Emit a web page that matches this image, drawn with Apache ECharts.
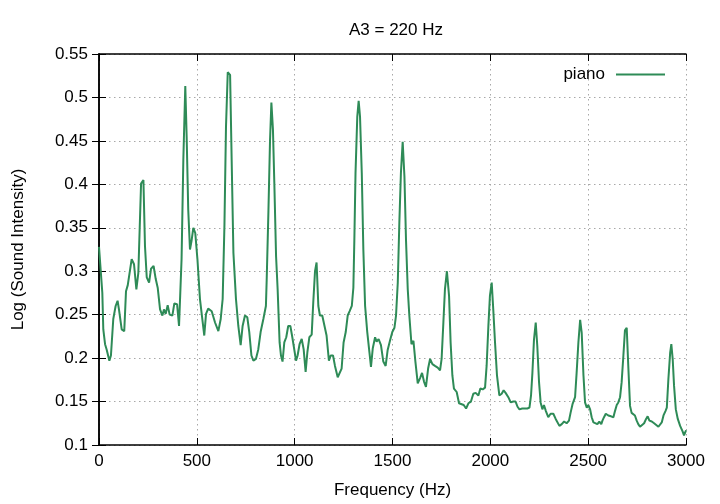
<!DOCTYPE html>
<html>
<head>
<meta charset="utf-8">
<script src="https://cdn.jsdelivr.net/npm/echarts@6/dist/echarts.min.js"></script>
<style>html,body{margin:0;padding:0;background:#fff}#c{width:720px;height:504px}</style>
</head>
<body>
<div id="c"></div>
<script>
var chartTitle = "A3 = 220 Hz";
var seriesName = "piano";
var xTicks = [0, 500, 1000, 1500, 2000, 2500, 3000];
var yTicks = [0.1, 0.15, 0.2, 0.25, 0.3, 0.35, 0.4, 0.45, 0.5, 0.55];
var frequency = [0,17,22,31,39,53,61,73,85,95,102,116,129,138,147,157,167,179,191,201,215,227,235,244,256,266,279,290,300,312,324,332,341,351,361,375,385,399,409,422,431,441,448,456,465,473,482,492,503,516,530,538,547,558,576,593,610,622,632,641,649,658,670,678,687,700,712,724,734,746,758,768,779,789,802,814,826,840,853,857,866,874,881,889,896,905,913,923,930,938,947,957,967,978,988,998,1007,1015,1025,1036,1046,1056,1065,1075,1087,1095,1104,1112,1121,1129,1141,1151,1163,1175,1184,1196,1206,1220,1230,1240,1250,1261,1271,1281,1292,1300,1305,1311,1320,1327,1334,1343,1351,1360,1371,1382,1390,1399,1411,1419,1429,1441,1453,1465,1475,1487,1499,1510,1518,1527,1535,1543,1552,1561,1569,1578,1586,1597,1607,1617,1629,1641,1651,1661,1671,1682,1692,1704,1717,1731,1743,1751,1760,1768,1778,1789,1797,1806,1814,1828,1840,1850,1864,1876,1888,1901,1913,1925,1939,1949,1961,1973,1981,1990,1998,2007,2015,2024,2034,2046,2058,2068,2078,2092,2104,2117,2129,2139,2149,2163,2177,2189,2200,2208,2215,2223,2232,2240,2249,2257,2266,2274,2284,2296,2308,2322,2334,2344,2353,2365,2377,2390,2402,2410,2420,2433,2441,2450,2459,2467,2476,2484,2493,2501,2510,2518,2527,2537,2547,2557,2567,2573,2581,2590,2603,2617,2629,2637,2646,2654,2663,2671,2680,2688,2697,2705,2714,2722,2731,2739,2748,2756,2765,2775,2786,2796,2804,2813,2825,2837,2847,2859,2868,2876,2885,2895,2902,2910,2919,2925,2932,2939,2948,2958,2970,2982,2990,2997,3000];
var intensity = [0.328,0.275,0.233,0.216,0.21,0.197,0.203,0.245,0.26,0.266,0.256,0.233,0.231,0.277,0.284,0.286,0.314,0.308,0.279,0.298,0.401,0.405,0.329,0.293,0.287,0.303,0.306,0.291,0.281,0.256,0.249,0.256,0.251,0.261,0.25,0.249,0.263,0.262,0.237,0.314,0.428,0.513,0.455,0.371,0.325,0.335,0.35,0.344,0.314,0.268,0.241,0.226,0.251,0.257,0.254,0.241,0.231,0.245,0.268,0.352,0.466,0.529,0.526,0.428,0.321,0.268,0.237,0.215,0.237,0.249,0.247,0.23,0.203,0.197,0.199,0.21,0.23,0.245,0.26,0.29,0.37,0.45,0.494,0.463,0.402,0.317,0.279,0.218,0.203,0.196,0.218,0.224,0.237,0.237,0.224,0.222,0.197,0.203,0.216,0.222,0.21,0.184,0.207,0.224,0.227,0.264,0.3,0.31,0.26,0.249,0.249,0.247,0.226,0.197,0.203,0.203,0.191,0.178,0.179,0.188,0.218,0.23,0.249,0.254,0.26,0.281,0.336,0.413,0.478,0.496,0.478,0.413,0.325,0.26,0.23,0.207,0.19,0.211,0.224,0.219,0.222,0.215,0.196,0.191,0.209,0.22,0.23,0.235,0.249,0.287,0.356,0.413,0.449,0.409,0.336,0.279,0.249,0.216,0.22,0.196,0.171,0.177,0.183,0.173,0.167,0.188,0.199,0.193,0.191,0.189,0.186,0.199,0.241,0.279,0.3,0.272,0.218,0.18,0.165,0.161,0.148,0.15,0.146,0.142,0.148,0.15,0.159,0.16,0.157,0.165,0.164,0.166,0.191,0.237,0.272,0.287,0.256,0.218,0.18,0.157,0.159,0.163,0.16,0.155,0.149,0.15,0.15,0.144,0.141,0.142,0.142,0.142,0.143,0.157,0.183,0.221,0.241,0.214,0.172,0.149,0.141,0.146,0.139,0.132,0.136,0.136,0.13,0.128,0.122,0.124,0.127,0.125,0.128,0.137,0.147,0.155,0.183,0.218,0.244,0.229,0.18,0.149,0.143,0.146,0.141,0.132,0.126,0.127,0.124,0.127,0.124,0.128,0.132,0.136,0.134,0.133,0.132,0.139,0.146,0.149,0.155,0.172,0.203,0.232,0.235,0.191,0.145,0.137,0.136,0.134,0.128,0.124,0.121,0.121,0.125,0.13,0.133,0.128,0.127,0.125,0.123,0.121,0.119,0.126,0.134,0.139,0.143,0.176,0.206,0.216,0.199,0.168,0.141,0.13,0.122,0.116,0.111,0.115,0.117];

var points = frequency.map(function (f, i) { return [f, intensity[i]]; });
var FONT = "Liberation Sans, Arial, sans-serif";
var FS = 17;
var frame = { show: true, lineStyle: { color: '#000', width: 1.5 } };
var tick = { show: true, inside: true, length: 7, lineStyle: { color: '#000', width: 1 } };
var grid = { show: true, lineStyle: { color: '#a8a8a8', type: [1.5, 3.5], width: 1 } };

var chart = echarts.init(document.getElementById('c'), null, { renderer: 'canvas' });
chart.setOption({
  animation: false,
  backgroundColor: '#fff',
  title: {
    text: chartTitle, left: 391, top: 17, textAlign: 'center',
    textStyle: { fontFamily: FONT, fontSize: FS, fontWeight: 'normal', color: '#000' }
  },
  legend: {
    right: 50, top: 61, align: 'right', itemWidth: 49, itemHeight: 2, icon: 'rect',
    data: [seriesName],
    textStyle: { fontFamily: FONT, fontSize: FS, color: '#000', padding: [0, 6, 0, 0] }
  },
  grid: { left: 99, right: 34, top: 54, bottom: 58 },
  xAxis: [{
    type: 'value', min: 0, max: 3000, interval: 500,
    name: 'Frequency (Hz)', nameLocation: 'middle', nameGap: 37,
    nameTextStyle: { fontFamily: FONT, fontSize: FS, color: '#000' },
    axisLine: frame, axisTick: tick, splitLine: grid,
    axisLabel: { margin: 8, fontFamily: FONT, fontSize: FS, color: '#000',
      formatter: function (v) { return xTicks.indexOf(v) >= 0 ? String(v) : ''; } }
  }, {
    type: 'value', position: 'top', min: 0, max: 3000, interval: 500,
    axisLine: frame, axisTick: tick, splitLine: { show: false }, axisLabel: { show: false }
  }],
  yAxis: [{
    type: 'value', min: 0.1, max: 0.55, interval: 0.05,
    name: 'Log (Sound Intensity)', nameLocation: 'middle', nameGap: 72,
    nameTextStyle: { fontFamily: FONT, fontSize: FS, color: '#000' },
    axisLine: frame, axisTick: tick, splitLine: grid,
    axisLabel: { margin: 11, fontFamily: FONT, fontSize: FS, color: '#000',
      formatter: function (v) {
        var r = Math.round(v * 100) / 100;
        for (var i = 0; i < yTicks.length; i++) { if (Math.abs(yTicks[i] - r) < 1e-9) return String(yTicks[i]); }
        return '';
      } }
  }, {
    type: 'value', position: 'right', min: 0.1, max: 0.55, interval: 0.05,
    axisLine: frame, axisTick: tick, splitLine: { show: false }, axisLabel: { show: false }
  }],
  series: [{
    name: seriesName, type: 'line', data: points, xAxisIndex: 0, yAxisIndex: 0,
    symbol: 'none', smooth: false,
    lineStyle: { color: '#2e8b57', width: 2 }, itemStyle: { color: '#2e8b57' }
  }]
});
</script>
</body>
</html>
